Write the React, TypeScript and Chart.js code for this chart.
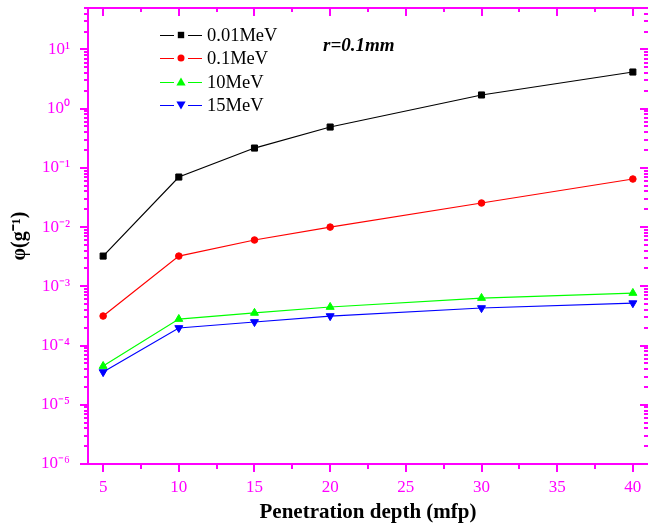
import React, { useEffect, useRef } from 'react';
import { Chart, registerables } from 'chart.js';

Chart.register(...registerables);

const depths = [5, 10, 15, 20, 30, 40];
const phi001MeV = [3.24e-3, 0.070, 0.216, 0.489, 1.70, 4.15];
const phi01MeV = [3.15e-4, 3.24e-3, 6.05e-3, 0.0100, 0.0255, 0.0648];
const phi10MeV = [4.5e-5, 2.8e-4, 3.55e-4, 4.47e-4, 6.34e-4, 7.7e-4];
const phi15MeV = [3.57e-5, 1.98e-4, 2.5e-4, 3.15e-4, 4.3e-4, 5.2e-4];

const seriesLabels = ['0.01MeV', '0.1MeV', '10MeV', '15MeV'];
const seriesColors = ['#000000', '#ff0000', '#00ff00', '#0000ff'];

const xTickValues = [5, 10, 15, 20, 25, 30, 35, 40];
const yTickValues = [1e-6, 1e-5, 1e-4, 1e-3, 1e-2, 1e-1, 1, 10];
const yTickLabels = ['10⁻⁶', '10⁻⁵', '10⁻⁴', '10⁻³', '10⁻²', '10⁻¹', '10⁰', '10¹'];

const annotationText = 'r=0.1mm';
const xTitle = 'Penetration depth (mfp)';
const yTitle = 'φ(g⁻¹)';

const MAG = '#ff00ff';
const SERIF = '"Liberation Serif", "Times New Roman", Times, serif';

function drawMarker(ctx: CanvasRenderingContext2D, style: string, x: number, y: number, color: string) {
  ctx.fillStyle = color;
  ctx.beginPath();
  if (style === 'rect') {
    ctx.rect(x - 3.2, y - 3.2, 6.4, 6.4);
  } else if (style === 'circle') {
    ctx.arc(x, y, 3.5, 0, Math.PI * 2);
  } else if (style === 'up') {
    ctx.moveTo(x, y - 4.5);
    ctx.lineTo(x + 4.6, y + 3.5);
    ctx.lineTo(x - 4.6, y + 3.5);
    ctx.closePath();
  } else {
    ctx.moveTo(x, y + 4.5);
    ctx.lineTo(x + 4.6, y - 3.5);
    ctx.lineTo(x - 4.6, y - 3.5);
    ctx.closePath();
  }
  ctx.fill();
}

const markerKinds = ['rect', 'circle', 'up', 'down'];

const decoPlugin = {
  id: 'deco',
  afterDraw(chart: any) {
    const { ctx, chartArea } = chart;
    const { left, right, top, bottom } = chartArea;
    const xs = chart.scales.x;
    const ys = chart.scales.y;
    ctx.save();
    ctx.strokeStyle = MAG;
    ctx.lineWidth = 2;
    // spines
    ctx.beginPath();
    ctx.moveTo(left, bottom);
    ctx.lineTo(left, top);
    ctx.moveTo(left - 1, top);
    ctx.lineTo(right, top);
    ctx.moveTo(left - 1, bottom);
    ctx.lineTo(right, bottom);
    ctx.stroke();
    // x ticks
    ctx.beginPath();
    for (const v of xTickValues) {
      const px = Math.round(xs.getPixelForValue(v));
      ctx.moveTo(px, bottom);
      ctx.lineTo(px, bottom + 8);
      ctx.moveTo(px, top);
      ctx.lineTo(px, top + 8);
    }
    for (let v = 7.5; v < 40; v += 5) {
      const px = Math.round(xs.getPixelForValue(v));
      ctx.moveTo(px, bottom);
      ctx.lineTo(px, bottom + 5);
      ctx.moveTo(px, top);
      ctx.lineTo(px, top + 4);
    }
    // y ticks
    for (const v of yTickValues) {
      const py = Math.round(ys.getPixelForValue(v));
      ctx.moveTo(left - 8, py);
      ctx.lineTo(left, py);
      ctx.moveTo(right - 8, py);
      ctx.lineTo(right, py);
      for (let m = 2; m <= 9; m++) {
        const mv = v * m;
        if (mv > ys.max) break;
        const pm = Math.round(ys.getPixelForValue(mv));
        ctx.moveTo(left - 4, pm);
        ctx.lineTo(left, pm);
        ctx.moveTo(right - 4, pm);
        ctx.lineTo(right, pm);
      }
    }
    ctx.stroke();

    // legend
    const rowsY = [35, 58, 82, 105];
    chart.data.datasets.forEach((ds: any, i: number) => {
      const y = rowsY[i];
      ctx.strokeStyle = ds.borderColor;
      ctx.lineWidth = 1;
      ctx.beginPath();
      ctx.moveTo(160, y + 0.5);
      ctx.lineTo(174, y + 0.5);
      ctx.moveTo(188, y + 0.5);
      ctx.lineTo(202, y + 0.5);
      ctx.stroke();
      drawMarker(ctx, markerKinds[i], 181, y, ds.borderColor);
      ctx.fillStyle = '#000000';
      ctx.font = '18.5px ' + SERIF;
      ctx.textAlign = 'left';
      ctx.textBaseline = 'middle';
      ctx.fillText(ds.label, 207, y + 1);
    });

    // annotation
    ctx.fillStyle = '#000000';
    ctx.font = 'italic bold 19px ' + SERIF;
    ctx.textAlign = 'left';
    ctx.textBaseline = 'middle';
    ctx.fillText(annotationText, 323, 46);
    ctx.restore();
  },
};

function zeroPadding(sc: any) {
  sc.paddingTop = 0;
  sc.paddingBottom = 0;
  sc.paddingLeft = 0;
  sc.paddingRight = 0;
}

export default function App() {
  const canvasRef = useRef<HTMLCanvasElement | null>(null);

  useEffect(() => {
    const canvas = canvasRef.current;
    if (!canvas) return;
    const seriesValues = [phi001MeV, phi01MeV, phi10MeV, phi15MeV];
    const pointStyles = ['rect', 'circle', 'triangle', 'triangle'];
    const pointRotations = [0, 0, 0, 180];
    const pointRadii = [4.3, 3.3, 4.6, 4.6];
    const chart = new Chart(canvas, {
      type: 'line',
      data: {
        datasets: seriesLabels.map((label, i) => ({
          label,
          data: depths.map((d, j) => ({ x: d, y: seriesValues[i][j] })),
          borderColor: seriesColors[i],
          backgroundColor: seriesColors[i],
          borderWidth: 1.2,
          pointStyle: pointStyles[i] as any,
          rotation: pointRotations[i],
          pointRadius: pointRadii[i],
          pointBorderWidth: 1,
          pointBorderColor: seriesColors[i],
          pointBackgroundColor: seriesColors[i],
          tension: 0,
        })),
      },
      options: {
        responsive: false,
        animation: false,
        layout: { autoPadding: false, padding: { top: 8, right: 0, left: 0, bottom: 0 } },
        plugins: {
          legend: { display: false },
          tooltip: { enabled: false },
        },
        scales: {
          x: {
            type: 'linear',
            min: 4,
            max: 41,
            grid: { display: false },
            border: { display: false },
            afterBuildTicks: (sc: any) => {
              sc.ticks = xTickValues.map((v) => ({ value: v }));
            },
            afterFit: (sc: any) => {
              sc.height = 64;
              zeroPadding(sc);
            },
            ticks: {
              color: MAG,
              font: { family: SERIF, size: 17 },
              padding: 5,
              maxRotation: 0,
              autoSkip: false,
              callback: (v: any) => String(v),
            },
            title: {
              display: true,
              text: xTitle,
              color: '#000000',
              font: { family: SERIF, size: 21, weight: 'bold' },
              padding: { top: 0, bottom: 3 },
            },
          },
          y: {
            type: 'logarithmic',
            min: 1e-6,
            max: 50,
            grid: { display: false },
            border: { display: false },
            afterBuildTicks: (sc: any) => {
              sc.ticks = yTickValues.map((v) => ({ value: v }));
            },
            afterFit: (sc: any) => {
              sc.width = 88;
              zeroPadding(sc);
            },
            ticks: {
              color: MAG,
              font: { family: SERIF, size: 17 },
              padding: 10,
              autoSkip: false,
              callback: (v: any) => {
                const idx = yTickValues.findIndex((t) => Math.abs(Math.log10(t) - Math.log10(v)) < 1e-6);
                return idx >= 0 ? yTickLabels[idx] : '';
              },
            },
            title: {
              display: true,
              text: yTitle,
              color: '#000000',
              font: { family: SERIF, size: 20, weight: 'bold' },
              padding: { top: 8, bottom: 0 },
            },
          },
        },
      },
      plugins: [decoPlugin],
    });
    return () => chart.destroy();
  }, []);

  return (
    <div style={{ position: 'absolute', left: 0, top: 0, width: 648, height: 528, background: '#ffffff' }}>
      <canvas ref={canvasRef} width={648} height={528} style={{ display: 'block' }} />
    </div>
  );
}
